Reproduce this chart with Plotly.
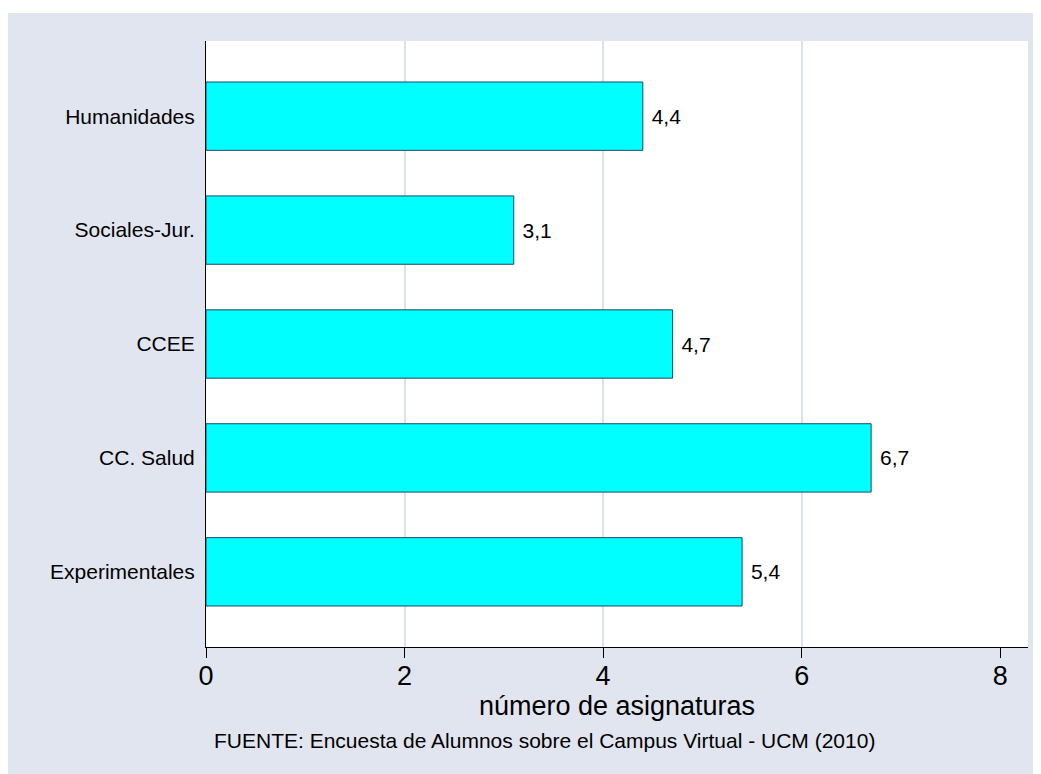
import plotly.graph_objects as go

categories = ["Experimentales", "CC. Salud", "CCEE", "Sociales-Jur.", "Humanidades"]
values = [5.4, 6.7, 4.7, 3.1, 4.4]
x_ticks = [0, 2, 4, 6, 8]
grid_vals = [2, 4, 6]
x_title = "número de asignaturas"
note = "FUENTE: Encuesta de Alumnos sobre el Campus Virtual - UCM (2010)"

FONT = "Liberation Sans, Arial, sans-serif"
BG = "#E0E5F0"

fig = go.Figure()
fig.add_trace(go.Bar(
    x=values, y=categories, orientation="h", width=0.6,
    marker=dict(color="#00FFFF", line=dict(color="#1A476F", width=1)),
    texttemplate="\u00a0%{x:.1f}", textposition="outside",
    textfont=dict(family=FONT, size=21, color="black"),
    cliponaxis=False, showlegend=False,
))
fig.add_trace(go.Scatter(x=[None], y=[None], xaxis="x2", yaxis="y",
                         showlegend=False, hoverinfo="skip"))

fig.update_layout(
    width=1041, height=774, autosize=False,
    margin=dict(l=198, r=21, t=33, b=135, pad=0),
    paper_bgcolor=BG, plot_bgcolor="white",
    separators=",.",
    font=dict(family=FONT, color="black"),
    xaxis=dict(
        range=[0, 8.28], tickvals=x_ticks, ticks="outside", ticklen=10,
        tickcolor="black", tickwidth=1, showline=True, linecolor="black",
        linewidth=1, showgrid=False, zeroline=False, ticklabelstandoff=-5,
        tickfont=dict(family=FONT, size=27, color="black"),
        title=dict(text=x_title, font=dict(family=FONT, size=27, color="black"),
                   standoff=0),
    ),
    xaxis2=dict(
        overlaying="x", range=[0, 8.28], tickvals=grid_vals, showgrid=True,
        gridcolor="#DCE1EE", gridwidth=2, showticklabels=False, ticks="",
        zeroline=False, showline=False,
    ),
    yaxis=dict(
        categoryorder="array", categoryarray=categories,
        range=[-0.66, 4.66], showline=True, linecolor="black", linewidth=1,
        ticks="", showgrid=False, zeroline=False, ticklabelstandoff=6,
        tickfont=dict(family=FONT, size=21, color="black"),
    ),
    shapes=[
        dict(type="rect", xref="paper", yref="paper", x0=-0.3, x1=1.1,
             y0=1.0462, y1=1.2, fillcolor="white", line=dict(width=0), layer="below"),
    ],
    annotations=[
        dict(text=note, xref="paper", yref="paper", x=0.0073, y=-0.155,
             xanchor="left", yanchor="middle", showarrow=False,
             font=dict(family=FONT, size=21, color="black")),
    ],
)

fig.write_html("out.html")
